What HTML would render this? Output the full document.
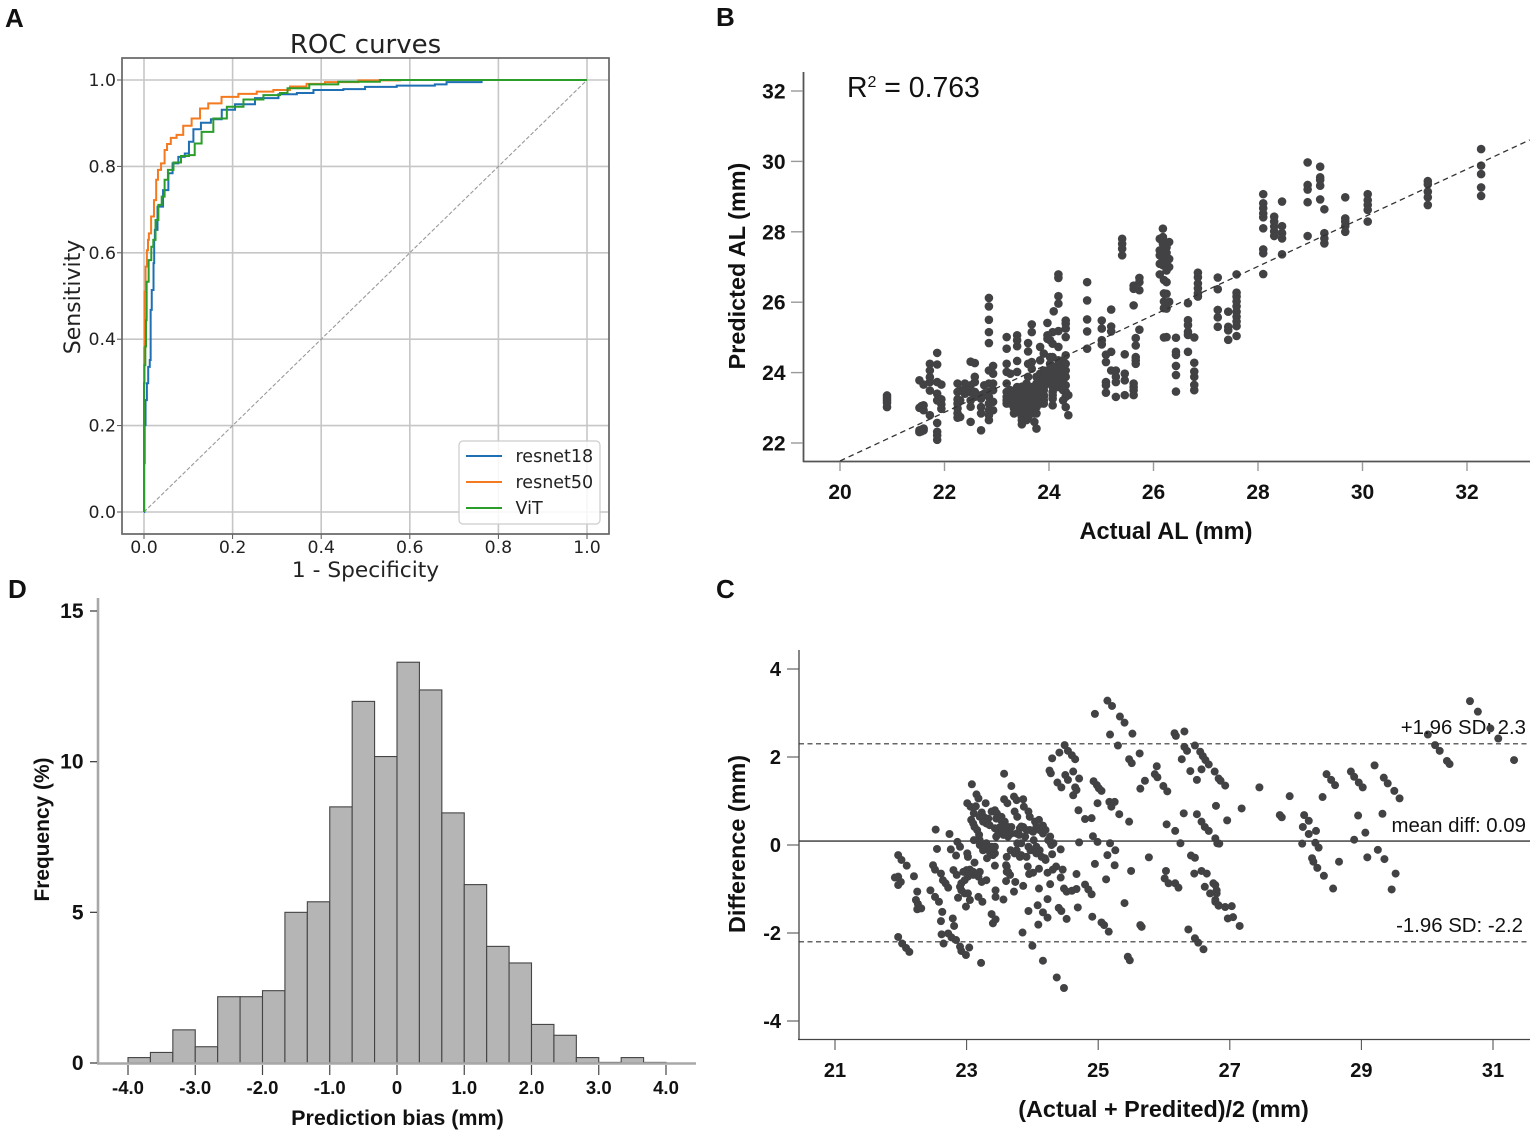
<!DOCTYPE html>
<html lang="en">
<head>
<meta charset="utf-8">
<title>Axial length prediction figure</title>
<style>
html,body{margin:0;padding:0;background:#fff;}
#figure{display:block;width:1535px;height:1136px;filter:blur(0.35px);}
text{font-family:"Liberation Sans",sans-serif;fill:#111;}
.dv{font-family:"DejaVu Sans",sans-serif;fill:#222;}
.b{font-weight:700;}
</style>
</head>
<body>
<svg id="figure" xmlns="http://www.w3.org/2000/svg" width="1535" height="1136" viewBox="0 0 1535 1136">
  <rect width="1535" height="1136" fill="#fff"/>
  <text class="b" x="5" y="27" font-size="26">A</text>
  <text class="b" x="716" y="26" font-size="26">B</text>
  <text class="b" x="716" y="598" font-size="26">C</text>
  <text class="b" x="8" y="598" font-size="26">D</text>

  <g id="panelA">
    <text class="dv" x="365.5" y="53" font-size="26" text-anchor="middle">ROC curves</text>
    <text class="dv" x="365.5" y="577" font-size="21.7" text-anchor="middle">1 - Specificity</text>
    <text class="dv" transform="translate(80,297) rotate(-90)" font-size="22" text-anchor="middle">Sensitivity</text>
  </g>
  <g id="panelB">
    <text x="847" y="97" font-size="28.4" fill="#222">R<tspan font-size="16" dy="-10">2</tspan><tspan dy="10"> = 0.763</tspan></text>
    <text class="b" x="1166" y="539" font-size="23.6" text-anchor="middle">Actual AL (mm)</text>
    <text class="b" transform="translate(745,266) rotate(-90)" font-size="23.4" text-anchor="middle">Predicted AL (mm)</text>
  </g>
  <g id="panelC">
    <text class="b" x="1163.5" y="1117" font-size="23.4" text-anchor="middle">(Actual + Predited)/2 (mm)</text>
    <text class="b" transform="translate(745,844) rotate(-90)" font-size="23.4" text-anchor="middle">Difference (mm)</text>
  </g>
  <g id="panelD">
    <text class="b" x="397.5" y="1125" font-size="21.5" text-anchor="middle">Prediction bias (mm)</text>
    <text class="b" transform="translate(49,829.5) rotate(-90)" font-size="20.9" text-anchor="middle">Frequency (%)</text>
  </g>
</svg>
<script>
// ---------- Panel A data ----------
const rocTicks = [0, 0.2, 0.4, 0.6, 0.8, 1.0];
const rocDiagonalFpr = [0, 1];
const rocDiagonalTpr = [0, 1];
const rocNames = ['resnet18', 'resnet50', 'ViT'];
const resnet18Fpr = [0,0.001,0.002,0.005,0.008,0.011,0.015,0.015,0.02,0.023,0.023,0.026,0.035,0.051,0.059,0.07,0.085,0.099,0.104,0.119,0.138,0.164,0.187,0.224,0.277,0.33,0.36,0.405,0.495,0.503,0.638,0.675,0.691,0.833,1];
const resnet18Tpr = [0,0.113,0.201,0.259,0.298,0.336,0.352,0.468,0.514,0.576,0.63,0.653,0.707,0.745,0.784,0.807,0.822,0.83,0.857,0.886,0.901,0.909,0.931,0.944,0.958,0.967,0.97,0.977,0.979,0.984,0.987,0.99,0.995,1,1];
const resnet50Fpr = [0,0,0.001,0.002,0.005,0.008,0.01,0.012,0.02,0.025,0.03,0.033,0.044,0.049,0.055,0.066,0.081,0.096,0.119,0.134,0.156,0.194,0.232,0.277,0.307,0.352,0.382,0.435,0.533,0.623,1];
const resnet50Tpr = [0,0.298,0.38,0.51,0.568,0.606,0.63,0.645,0.684,0.722,0.769,0.792,0.807,0.838,0.852,0.866,0.873,0.894,0.911,0.934,0.946,0.961,0.968,0.973,0.977,0.985,0.991,0.995,0.999,1,1];
const vitFpr = [0,0,0.002,0.004,0.005,0.007,0.014,0.019,0.023,0.029,0.036,0.044,0.049,0.059,0.074,0.093,0.11,0.119,0.141,0.172,0.202,0.247,0.292,0.322,0.326,0.42,0.457,0.608,1];
const vitTpr = [0,0.298,0.34,0.383,0.444,0.533,0.583,0.614,0.63,0.676,0.711,0.73,0.769,0.792,0.809,0.824,0.826,0.853,0.88,0.911,0.938,0.955,0.965,0.97,0.981,0.99,0.996,1,1];

// ---------- Panel B data ----------
const regressionXTicks = [20, 22, 24, 26, 28, 30, 32];
const regressionYTicks = [22, 24, 26, 28, 30, 32];
const fitActual = [20, 33.2];
const fitPredicted = [21.49, 30.61];
const actualAL = [20.9,21.52,21.56,21.6,21.72,21.86,21.94,22.25,22.3,22.39,22.5,22.58,22.7,22.76,22.85,22.93,23.19,23.26,23.33,23.39,23.48,23.57,23.6,23.67,23.72,23.76,23.83,23.9,23.97,24.02,24.07,24.09,24.18,24.27,24.32,24.37,24.73,25.01,25.09,25.19,25.28,25.4,25.45,25.62,25.66,25.73,26.12,26.18,26.2,26.25,26.3,26.43,26.66,26.78,26.85,27.23,27.43,27.59,28.1,28.31,28.46,28.95,29.19,29.27,29.67,30.1,31.25,32.27];
const predictedAL = [
[23.35,23.28,23.21,23.14,23.02],
[23.78,23.0,22.36,22.31],
[22.38,22.33,23.05],
[23.66,23.07,22.93,22.36,22.41],
[24.25,24.06,23.87,23.73,23.49,22.79],
[24.56,24.23,23.73,23.4,23.21,22.57,22.32,22.22,22.09],
[23.66,23.24,23.1,22.97],
[23.69,23.45,23.24,23.12,22.98,22.84,22.72],
[23.21,22.74,23.5],
[23.69,23.5,23.4],
[24.31,23.64,23.45,23.21,23.03,22.6],
[24.27,23.88,23.73,23.45,23.31],
[23.36,23.26,23.02,22.84,22.36],
[23.64,23.4],
[26.12,25.88,25.5,25.15,24.84,24.06,23.69,23.45,23.31,23.12,22.93,22.79,22.65],
[24.19,23.97,23.69,23.5,23.17,22.93],
[25.01,24.68,24.25,24.02,23.69,23.45,23.31,23.21,23.12],
[23.5,23.31,23.12,23.97],
[23.45,23.21,22.98,22.84],
[25.06,24.92,24.75,24.33,24.02,23.59,23.5,23.4,23.31,23.21,23.12,23.02,22.88],
[22.74,22.53,22.65,23.12,22.93,23.31,23.45,23.6,23.21],
[23.69,23.5,23.31,23.12,22.84,22.65],
[24.84,24.6,24.25,23.88,23.6,23.45,23.36,23.26,23.12,23.02,22.93,22.74],
[25.37,25.15,24.3,24.11,23.59,23.5,23.4,23.31,23.21,23.12,23.02,22.93,22.84],
[22.6,22.84],
[22.41,22.84,23.02,23.12,23.21,23.31,23.45,23.6,23.69,23.88],
[24.73,24.35,23.97,23.73,23.5,23.4,23.31,23.21,23.12],
[24.54,24.06,23.88,23.78,23.59,23.5,23.36,23.31,23.21,23.12],
[25.41,25.06,24.96,24.06,23.88,23.69],
[24.92,24.44,24.25],
[25.15,24.82,24.44,24.16,23.97,23.88,23.69,23.59,23.45,23.36,23.26,23.07],
[25.74],
[26.79,26.69,26.17,25.96,25.18,24.73,24.35,24.25,24.16,24.06,23.97,23.88,23.78,23.59],
[23.21,23.5,24.35,24.25,24.16,24.06,23.97,23.88,23.78,23.64],
[25.48,25.39,25.25,25.01,24.49,24.25,24.06,23.88,23.64,23.45,23.31,23.02],
[22.79,23.36],
[26.57,26.05,25.51,25.17,24.68],
[25.48,25.25,24.92,24.8],
[24.51,24.3,23.73,23.64,23.43],
[25.79,25.31,25.17,24.59,24.06],
[24.06,23.88,23.73,23.31],
[27.8,27.66,27.52,27.33],
[24.52,23.97,23.78,23.36],
[26.47,26.38,25.91,23.69,23.59,23.5,23.36],
[24.98,24.77,24.44,24.35,24.25],
[26.69,26.57,26.34,25.22],
[27.8,27.47,27.33,27.09,26.79],
[28.09,27.85,27.66,27.5,27.33,27.2,27.05],
[25.0,26.25,26.02,25.83,26.63],
[27.56,27.28,27.09,26.9,26.57,26.24,25.82,25.01,27.4,27.15],
[27.71,27.23,26.01,27.0],
[24.99,24.59,24.5,24.19,23.93,23.46],
[25.97,25.49,25.35,25.16,25.07,24.59],
[25.0,24.28,24.03,23.88,23.65,23.5],
[26.84,26.71,26.53,26.39,26.25,26.16],
[26.7,26.37,25.78,25.57,25.3],
[25.73,25.3,25.2,24.93],
[26.79,26.27,26.16,26.02,25.88,25.73,25.59,25.45,25.32,25.04],
[29.07,28.81,28.67,28.52,28.41,28.1,27.5,27.39,26.8],
[28.43,28.29,28.15,28.01,27.88],
[28.86,28.16,27.96,27.81,27.36],
[29.97,29.33,29.2,28.84,27.88],
[29.85,29.55,29.47,29.31,28.92],
[28.64,27.96,27.81,27.67],
[28.98,28.38,28.29,28.16,28],
[29.07,28.9,28.76,28.62,28.29],
[29.44,29.35,29.14,28.98,28.76],
[30.35,29.88,29.64,29.26,29.02]
];

// ---------- Panel C data ----------
const baXTicks = [21, 23, 25, 27, 29, 31];
const baYTicks = [-4, -2, 0, 2, 4];
const meanDiff = 0.09;
const upperLimit = 2.3;
const lowerLimit = -2.2;
const baPoints = [
[25.14,3.28],[25.21,3.16],[24.95,2.98],[25.33,2.92],[25.40,2.78],[25.18,2.51],[25.52,2.53],[25.30,2.26],[25.63,2.08],[25.47,1.95],[25.51,1.86],[26.16,2.54],[26.18,2.48],[26.31,2.58],[26.47,2.26],[26.31,2.23],[26.35,2.14],[26.55,2.12],[26.59,2.02],[26.63,1.93],[26.68,1.83],[26.27,1.95],[26.77,1.67],[26.83,1.51],[26.57,1.72],[26.40,1.68],[26.50,1.48],[25.89,1.79],[25.86,1.61],[25.90,1.54],[25.71,1.46],[25.64,1.28],[25.99,1.34],[26.05,1.22],
[24.49,2.27],[24.54,2.14],[24.60,2.04],[24.65,1.95],[24.41,2.10],[24.30,1.97],[24.26,1.69],[24.28,1.63],[24.62,1.67],[24.71,1.51],[24.50,1.59],[24.54,1.48],[24.38,1.42],[24.44,1.31],[24.65,1.31],[24.67,1.25],[24.62,1.13],[24.93,1.45],[24.98,1.36],[25.01,1.29],[25.05,1.23],[24.70,0.79],[24.99,0.95],[24.80,0.59],[24.90,0.61],[25.17,0.98],[25.25,0.98],[25.20,0.87],[25.32,0.70],[25.47,0.53],[24.92,0.20],[24.99,0.07],[24.71,0.06],[25.18,0.04],[25.26,-0.12],[25.14,-0.23],[24.95,-0.43],[25.25,-0.46],[25.50,-0.59],[25.12,-0.78],[25.77,-0.28],[25.40,-1.32],[24.69,-1.42],[24.91,-1.63],[25.05,-1.76],[25.09,-1.82],[25.16,-1.97],[25.64,-1.82],[25.66,-1.86],[25.45,-2.54],[25.48,-2.62],[26.37,-1.92],[26.47,-2.12],[26.52,-2.22],[26.60,-2.37],[26.03,-0.59],[26.01,-0.76],[26.07,-0.87],[26.17,-0.87],[26.22,-0.97],[26.41,-0.24],[26.47,-0.29],[26.46,-0.65],[26.57,-0.59],[26.65,-0.65],[26.62,-0.95],[26.75,-0.87],[26.70,-1.10],[26.78,-1.25],[26.83,-1.37],[26.80,-1.03],[26.30,0.72],[26.50,0.70],[26.57,0.53],[26.62,0.41],[26.68,0.32],[26.04,0.47],[26.17,0.32],[26.25,0.04],[26.78,0.15],[26.81,0.04],[26.79,0.89],
[26.86,1.46],[26.93,1.35],[27.45,1.31],[27.91,1.11],[28.41,1.09],[28.47,1.61],[28.54,1.48],[28.60,1.36],[28.84,1.67],[28.89,1.55],[28.96,1.42],[29.02,1.31],[29.20,1.81],[29.34,1.53],[29.40,1.40],[29.50,1.23],[29.58,1.06],[27.18,0.83],[26.96,0.56],[27.76,0.68],[27.79,0.63],[28.13,0.68],[28.20,0.55],[28.11,0.41],[28.20,0.25],[28.31,0.32],[28.10,0.03],[28.30,0.05],[28.35,-0.06],[28.25,-0.30],[28.27,-0.38],[28.33,-0.52],[28.43,-0.70],[28.57,-0.99],[28.66,-0.38],[28.95,0.67],[29.06,0.28],[28.89,0.12],[29.32,0.71],[29.25,-0.11],[29.09,-0.28],[29.35,-0.32],[29.52,-0.65],[29.46,-1.01],[30.01,2.51],[30.12,2.27],[30.19,2.14],[30.30,1.91],[30.34,1.84],[30.65,3.27],[30.77,3.03],[30.96,2.65],[31.08,2.42],[31.32,1.93],[26.84,0.03],[26.78,-0.91],[26.80,-1.10],[26.78,-1.29],[26.83,-1.38],[26.93,-1.41],[27.03,-1.39],[26.97,-1.67],[27.05,-1.64],[27.15,-1.84],
[21.96,-0.23],[22.01,-0.34],[22.09,-0.47],[22.20,-0.71],[21.91,-0.74],[21.96,-0.72],[22.0,-0.84],[21.96,-0.91],[22.25,-1.06],[22.23,-1.25],[22.26,-1.34],[22.25,-1.46],[22.31,-1.44],[22.45,-1.03],[22.52,-1.18],[22.58,-1.29],[22.63,-1.52],[22.61,-1.73],[22.79,-1.67],[22.81,-1.84],[22.62,-2.03],[22.72,-2.01],[22.77,-2.10],[22.84,-2.16],[22.65,-2.24],[22.90,-2.31],[22.92,-2.41],[22.99,-2.50],[23.04,-2.33],[23.22,-2.68],[21.96,-2.09],[22.02,-2.24],[22.08,-2.34],[22.13,-2.43],
[22.53,0.35],[22.55,-0.09],[22.49,-0.46],[22.52,-0.56],[22.61,-0.65],[22.64,-0.80],[22.68,-0.87],[22.72,-0.97],[22.74,0.25],[22.76,-0.10],[22.84,-0.24],[22.86,0.07],[22.90,-0.04],[23.01,-0.19],[23.02,-0.27],[23.12,-0.40],[22.80,-0.57],[22.85,-0.68],[22.90,-0.95],[22.97,-0.80],[23.0,-0.57],[23.05,-0.56],[23.10,-0.68],[23.20,-0.61],[23.18,-0.72],[23.23,-0.84],[23.30,-0.80],[22.92,-1.03],[22.87,-1.20],[23.02,-1.10],[23.05,-1.25],[22.99,-1.40],[23.18,-1.18],[23.24,-1.29],[23.38,-1.57],[23.44,-1.03],[23.44,-1.18],[23.56,-1.24],[23.40,-1.78],[23.44,-1.69],[23.43,-0.47],
[23.08,1.38],[23.15,1.15],[23.18,1.06],[23.01,0.95],[23.06,0.87],[23.14,0.88],[23.29,0.95],[23.11,0.72],[23.10,0.49],[23.16,0.34],[23.19,0.23],[23.11,0.11],[23.23,0.74],[23.26,0.64],[23.30,0.49],[23.35,0.45],[23.43,0.79],[23.46,0.72],[23.52,0.57],[23.58,0.45],[23.63,0.41],[23.68,0.41],[23.48,0.26],[23.56,0.23],[23.63,0.19],[23.20,0.0],[23.25,-0.12],[23.30,0.04],[23.38,-0.04],[23.43,-0.19],[23.31,-0.30],[23.40,-0.23],[23.57,1.62],[23.68,1.34],[23.57,1.04],[23.62,0.95],[23.72,1.10],[23.76,1.02],[23.86,1.04],[23.73,0.76],[23.77,0.64],[23.87,0.87],[23.94,0.76],[23.96,0.64],[23.83,0.42],[23.91,0.34],[23.77,0.04],[23.80,0.23],[23.67,-0.12],[23.73,-0.19],[23.81,-0.27],[23.91,-0.27],[23.61,-0.27],[23.60,-0.46],[23.61,-0.61],[23.66,-0.68],[23.60,-0.82],[23.74,-0.84],[23.86,-0.93],[23.72,-1.06],[23.93,-0.49],[23.95,-0.66],[24.01,-0.63],[24.10,-0.54],[24.10,-0.99],[24.23,-1.23],[24.27,-0.89],[24.43,-0.74],[24.23,-0.63],[24.31,-0.56],[24.36,-0.49],[24.46,-0.56],[24.48,-0.99],[24.52,-1.06],[24.60,-1.04],[24.67,-1.0],[24.80,-0.90],[24.85,-1.01],[24.90,-1.12],[24.67,-0.66],[23.94,-1.50],[24.08,-1.37],[24.16,-1.53],[24.23,-1.65],[24.09,-1.81],[23.85,-1.99],[24.0,-2.29],[24.16,-2.63],[24.37,-3.01],[24.48,-3.25],[24.40,-1.43],[24.44,-1.50],[24.52,-1.68],[24.04,0.53],[24.10,0.57],[24.16,0.44],[24.20,0.34],[24.02,0.11],[24.06,-0.04],[24.11,-0.12],[23.97,-0.12],[24.14,-0.27],[24.20,-0.34],[24.27,0.19],[24.28,0.04],[24.32,0.04],[24.43,-0.10],[24.30,-0.21],[24.01,0.30],[23.89,0.19],[23.83,0.04],
[23.07,0.57],[23.12,0.41],[23.20,0.64],[23.25,0.53],[23.33,0.60],[23.38,0.76],[23.45,0.60],[23.53,0.64],[23.58,0.53],[23.51,0.41],[23.43,0.38],[23.45,0.19],[23.53,0.34],[23.61,0.30],[23.68,0.26],[23.76,0.26],[23.81,0.38],[23.86,0.41],[23.96,0.34],[24.06,0.41],[24.11,0.34],[24.16,0.26],[24.24,0.11],[24.29,0.0],[23.20,0.11],[23.28,-0.04],[23.35,-0.15],[23.43,-0.04],[23.76,-0.12],[23.83,-0.23],[23.94,-0.04],[24.01,-0.12],[24.06,-0.19],[24.19,-0.30],[22.95,-0.61],[23.02,-0.72],[22.92,-0.87],[22.97,-1.10],[23.10,-0.61],[23.61,-0.49],[23.63,-0.61]
];

// ---------- Panel D data ----------
const histXTicks = [-4, -3, -2, -1, 0, 1, 2, 3, 4];
const histXTickLabels = ['-4.0','-3.0','-2.0','-1.0','0','1.0','2.0','3.0','4.0'];
const histYTicks = [0, 5, 10, 15];
const binStart = -4;
const binWidth = 1 / 3;
const binFrequency = [0.18,0.35,1.10,0.54,2.2,2.2,2.4,5.0,5.35,8.5,12.0,10.17,13.3,12.38,8.3,5.92,3.87,3.32,1.28,0.92,0.18,0.02,0.18,0.02];

// ---------- drawing ----------
const NS = 'http://www.w3.org/2000/svg';
function el(parent, tag, attrs, content) {
  const e = document.createElementNS(NS, tag);
  for (const k in attrs) e.setAttribute(k, attrs[k]);
  if (content !== undefined) e.textContent = content;
  parent.appendChild(e);
  return e;
}
function linear(d0, d1, r0, r1) {
  return v => r0 + (v - d0) * (r1 - r0) / (d1 - d0);
}
const panelA = document.getElementById('panelA');
const panelB = document.getElementById('panelB');
const panelC = document.getElementById('panelC');
const panelD = document.getElementById('panelD');

// Panel A
const rx = linear(0, 1, 144, 587);
const ry = linear(0, 1, 512, 80);
rocTicks.forEach(t => {
  const gv = el(panelA, 'line', {x1: rx(t), x2: rx(t), y1: 58, y2: 534, stroke: '#c6c6c6', 'stroke-width': 1.6});
  
  
  const gh = el(panelA, 'line', {x1: 122, x2: 609, y1: ry(t), y2: ry(t), stroke: '#c6c6c6', 'stroke-width': 1.6});
  
  
  const tx = el(panelA, 'line', {x1: rx(t), x2: rx(t), y1: 534, y2: 539, stroke: '#555', 'stroke-width': 1});
  
  
  const ty = el(panelA, 'line', {x1: 117, x2: 122, y1: ry(t), y2: ry(t), stroke: '#555', 'stroke-width': 1});
  
  
  const lx = el(panelA, 'text', {x: rx(t), y: 553, 'font-size': 17.3, 'text-anchor': 'middle', class: 'dv'}, t.toFixed(1));
  
  
  const ly = el(panelA, 'text', {x: 116, y: ry(t) + 6, 'font-size': 17.3, 'text-anchor': 'end', class: 'dv'}, t.toFixed(1));
  
  
});
const diagonal = el(panelA, 'line', {x1: rx(rocDiagonalFpr[0]), y1: ry(rocDiagonalTpr[0]), x2: rx(rocDiagonalFpr[1]), y2: ry(rocDiagonalTpr[1]), stroke: '#9a9a9a', 'stroke-width': 1.1, 'stroke-dasharray': '4 2'});


function rocPath(fpr, tpr) {
  let d = '';
  fpr.forEach((f, i) => {
    const x = rx(f), y = ry(tpr[i]);
    if (i === 0) {
      d += 'M' + x.toFixed(2) + ' ' + y.toFixed(2);
    } else {
      const mid = (rx(fpr[i - 1]) + x) / 2;
      d += 'L' + mid.toFixed(2) + ' ' + ry(tpr[i - 1]).toFixed(2) + 'L' + mid.toFixed(2) + ' ' + y.toFixed(2) + 'L' + x.toFixed(2) + ' ' + y.toFixed(2);
    }
  });
  return d;
}
const curveBlue = el(panelA, 'path', {d: rocPath(resnet18Fpr, resnet18Tpr), fill: 'none', stroke: '#1f6fb4', 'stroke-width': 2});


const curveOrange = el(panelA, 'path', {d: rocPath(resnet50Fpr, resnet50Tpr), fill: 'none', stroke: '#f47a1f', 'stroke-width': 2});


const curveGreen = el(panelA, 'path', {d: rocPath(vitFpr, vitTpr), fill: 'none', stroke: '#2a9d2a', 'stroke-width': 2});


const frame = el(panelA, 'rect', {x: 122, y: 58, width: 487, height: 476, fill: 'none', stroke: '#666', 'stroke-width': 1.7});


const legendBox = el(panelA, 'rect', {x: 459, y: 441, width: 141, height: 83, rx: 4, fill: '#fff', 'fill-opacity': 0.85, stroke: '#ccc', 'stroke-width': 1.2});


const legendColors = ['#1f6fb4', '#f47a1f', '#2a9d2a'];
rocNames.forEach((name, i) => {
  const y = 456 + i * 26;
  const sw = el(panelA, 'line', {x1: 466, x2: 502, y1: y, y2: y, stroke: legendColors[i], 'stroke-width': 2});
  
  
  const lb = el(panelA, 'text', {x: 515.5, y: y + 6, 'font-size': 17.5, class: 'dv'}, name);
  
  
});

// Panel B
const bx = linear(20, 32, 840, 1467);
const by = linear(22, 32, 443, 91);
const bSpineY = el(panelB, 'line', {x1: 803.5, x2: 803.5, y1: 72, y2: 462, stroke: '#555', 'stroke-width': 1.8});


const bSpineX = el(panelB, 'line', {x1: 803, x2: 1530, y1: 461.5, y2: 461.5, stroke: '#555', 'stroke-width': 1.8});


regressionXTicks.forEach(t => {
  const k = el(panelB, 'line', {x1: bx(t), x2: bx(t), y1: 462, y2: 471, stroke: '#999', 'stroke-width': 1.4});
  
  
  const l = el(panelB, 'text', {x: bx(t), y: 499, 'font-size': 21, 'text-anchor': 'middle', class: 'b', fill: '#222'}, String(t));
  
  
});
regressionYTicks.forEach(t => {
  const k = el(panelB, 'line', {x1: 791, x2: 803, y1: by(t), y2: by(t), stroke: '#999', 'stroke-width': 1.4});
  
  
  const l = el(panelB, 'text', {x: 785.5, y: by(t) + 7.5, 'font-size': 21, 'text-anchor': 'end', class: 'b', fill: '#222'}, String(t));
  
  
});
actualAL.forEach((a, i) => {
  predictedAL[i].forEach(p => {
    const c = el(panelB, 'circle', {cx: bx(a).toFixed(2), cy: by(p).toFixed(2), r: 4.3, fill: '#424244'});
    
    
  });
});
const fitLine = el(panelB, 'line', {x1: bx(fitActual[0]), y1: by(fitPredicted[0]), x2: bx(fitActual[1]), y2: by(fitPredicted[1]), stroke: '#333', 'stroke-width': 1.3, 'stroke-dasharray': '5.5 4'});



// Panel C
const cx = linear(21, 31, 835, 1493);
const cy = linear(-4, 4, 1021, 669);
const cSpineY = el(panelC, 'line', {x1: 799, x2: 799, y1: 650, y2: 1040, stroke: '#444', 'stroke-width': 1.3});


const cSpineX = el(panelC, 'line', {x1: 798, x2: 1530, y1: 1039.5, y2: 1039.5, stroke: '#444', 'stroke-width': 1.3});


baXTicks.forEach(t => {
  const k = el(panelC, 'line', {x1: cx(t), x2: cx(t), y1: 1040, y2: 1050, stroke: '#555', 'stroke-width': 1.1});
  
  
  const l = el(panelC, 'text', {x: cx(t), y: 1077, 'font-size': 20, 'text-anchor': 'middle', class: 'b', fill: '#222'}, String(t));
  
  
});
baYTicks.forEach(t => {
  const k = el(panelC, 'line', {x1: 787, x2: 799, y1: cy(t), y2: cy(t), stroke: '#555', 'stroke-width': 1.1});
  
  
  const l = el(panelC, 'text', {x: 781, y: cy(t) + 7, 'font-size': 20, 'text-anchor': 'end', class: 'b', fill: '#222'}, String(t));
  
  
});
const meanLine = el(panelC, 'line', {x1: 799, x2: 1530, y1: cy(meanDiff), y2: cy(meanDiff), stroke: '#333', 'stroke-width': 1.3});


const upperLine = el(panelC, 'line', {x1: 799, x2: 1530, y1: cy(upperLimit), y2: cy(upperLimit), stroke: '#333', 'stroke-width': 1.2, 'stroke-dasharray': '5 3.5'});


const lowerLine = el(panelC, 'line', {x1: 799, x2: 1530, y1: cy(lowerLimit), y2: cy(lowerLimit), stroke: '#333', 'stroke-width': 1.2, 'stroke-dasharray': '5 3.5'});


baPoints.forEach(p => {
  const c = el(panelC, 'circle', {cx: cx(p[0]).toFixed(2), cy: cy(p[1]).toFixed(2), r: 4, fill: '#424244'});
  
  
});
const upperLabel = el(panelC, 'text', {x: 1526, y: 734, 'font-size': 20.4, 'text-anchor': 'end', fill: '#222'}, '+1.96 SD: ' + upperLimit.toFixed(1));


const meanLabel = el(panelC, 'text', {x: 1526, y: 832, 'font-size': 20.4, 'text-anchor': 'end', fill: '#222'}, 'mean diff: ' + meanDiff.toFixed(2));


const lowerLabel = el(panelC, 'text', {x: 1523, y: 932, 'font-size': 20.4, 'text-anchor': 'end', fill: '#222'}, '-1.96 SD: ' + lowerLimit.toFixed(1));



// Panel D
const dx = linear(-4, 4, 128, 666);
const dy = linear(0, 15, 1063, 611);
binFrequency.forEach((f, i) => {
  const left = dx(binStart + i * binWidth);
  const right = dx(binStart + (i + 1) * binWidth);
  const r = el(panelD, 'rect', {x: left.toFixed(2), y: dy(f).toFixed(2), width: (right - left).toFixed(2), height: (dy(0) - dy(f)).toFixed(2), fill: '#b5b5b5', stroke: '#444', 'stroke-width': 1.1});
  
  
});
const dSpineY = el(panelD, 'line', {x1: 98, x2: 98, y1: 598, y2: 1064, stroke: '#a8a8a8', 'stroke-width': 2.6});


const dSpineX = el(panelD, 'line', {x1: 97, x2: 696, y1: 1063.5, y2: 1063.5, stroke: '#a8a8a8', 'stroke-width': 2.6});


histXTicks.forEach((t, i) => {
  const k = el(panelD, 'line', {x1: dx(t), x2: dx(t), y1: 1065, y2: 1075, stroke: '#444', 'stroke-width': 1.2});
  
  
  const l = el(panelD, 'text', {x: dx(t), y: 1094, 'font-size': 18.5, 'text-anchor': 'middle', class: 'b', fill: '#222'}, histXTickLabels[i]);
  
  
});
histYTicks.forEach(t => {
  const k = el(panelD, 'line', {x1: 90, x2: 97, y1: dy(t), y2: dy(t), stroke: '#444', 'stroke-width': 1.3});
  
  
  const l = el(panelD, 'text', {x: 83.5, y: dy(t) + 7, 'font-size': 21, 'text-anchor': 'end', class: 'b', fill: '#222'}, String(t));
  
  
});
</script>
</body>
</html>
